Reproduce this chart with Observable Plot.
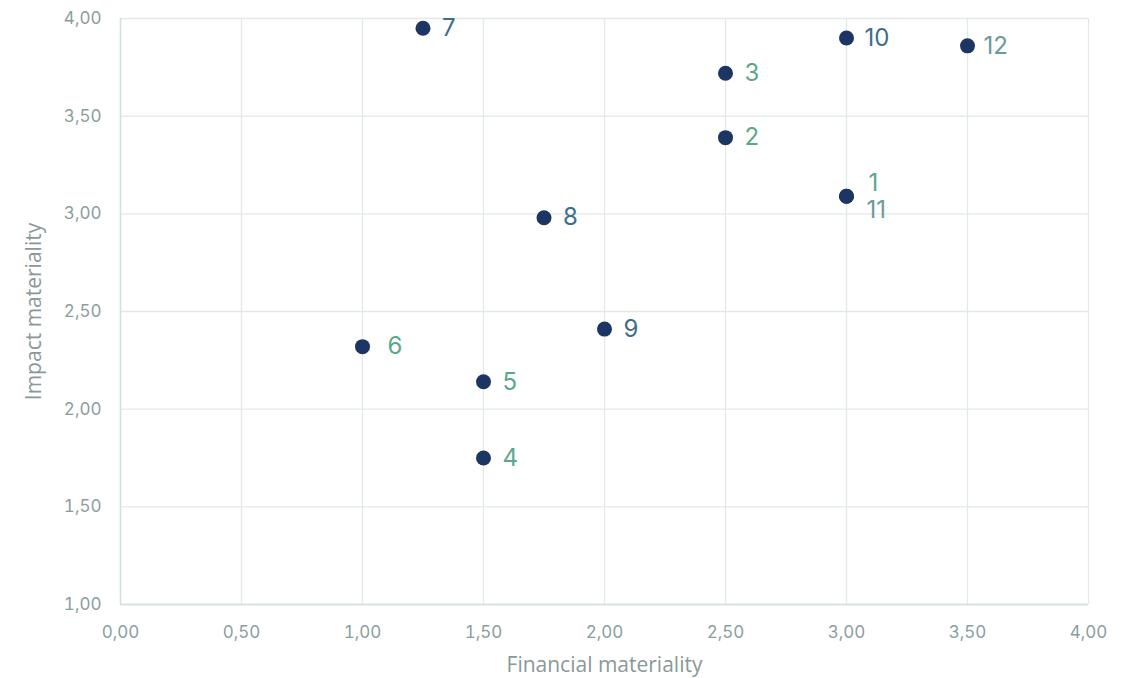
<!DOCTYPE html>
<html>
<head>
<meta charset="utf-8">
<script src="https://cdn.jsdelivr.net/npm/d3@7"></script>
<script src="https://cdn.jsdelivr.net/npm/@observablehq/plot@0.6"></script>
<style>
  html, body { margin: 0; padding: 0; background: #ffffff; }
  #chart svg { display: block; }
</style>
</head>
<body>
<div id="chart"></div>
<script>
const labels = ["1", "2", "3", "4", "5", "6", "7", "8", "9", "10", "11", "12"];
const financial = [3.0, 2.5, 2.5, 1.5, 1.5, 1.0, 1.25, 1.75, 2.0, 3.0, 3.0, 3.5];
const impact = [3.09, 3.39, 3.72, 1.75, 2.14, 2.32, 3.95, 2.98, 2.41, 3.90, 3.09, 3.86];
const group = ["g", "g", "g", "g", "g", "g", "b", "b", "b", "b", "t", "t"];
const labelDy = [-13, 0, 0, 0, 0, 0, 0, 0, 0, 0, 14, 0];
const labelDx = [22, 19, 19, 19, 19, 25, 19, 19, 19, 18, 20, 16];
const xTicks = [0, 0.5, 1, 1.5, 2, 2.5, 3, 3.5, 4];
const yTicks = [1, 1.5, 2, 2.5, 3, 3.5, 4];

const data = labels.map((l, i) => ({
  label: l, x: financial[i], y: impact[i], g: group[i], dy: labelDy[i], dx: labelDx[i]
}));
const colors = { g: "#5aa88a", b: "#3f6d8c", t: "#6b9a9a" };
const fmt = v => d3.format(".2f")(v).replace(".", ",");
const numFont = "Inter, 'Noto Sans', sans-serif";
const titleFont = "'Open Sans', 'Noto Sans', sans-serif";

const plot = Plot.plot({
  width: 1129,
  height: 678,
  marginLeft: 120,
  marginRight: 41,
  marginTop: 18,
  marginBottom: 74,
  style: { fontFamily: numFont, background: "#ffffff" },
  x: { domain: [0, 4] },
  y: { domain: [1, 4] },
  marks: [
    Plot.gridX(xTicks, { stroke: "#e3e9e9", strokeOpacity: 1, strokeWidth: 1.3 }),
    Plot.gridY(yTicks, { stroke: "#e3e9e9", strokeOpacity: 1, strokeWidth: 1.3 }),
    Plot.ruleX([0], { stroke: "#d6dfdf", strokeWidth: 1.5 }),
    Plot.ruleY([1], { stroke: "#d6dfdf", strokeWidth: 1.5 }),
    Plot.axisX(xTicks, { tickSize: 0, tickPadding: 21, tickFormat: fmt, fill: "#8a9e9e", fontSize: 17, fontWeight: 400, label: null }),
    Plot.axisY(yTicks, { tickSize: 0, tickPadding: 19, tickFormat: fmt, fill: "#8a9e9e", fontSize: 17, fontWeight: 400, label: null }),
    Plot.text(["Financial materiality"], { x: 2, y: 1, text: d => d, dy: 61, fontSize: 21, fontFamily: titleFont, fill: "#8a9898" }),
    Plot.text(["Impact materiality"], { x: 0, y: 2.5, text: d => d, rotate: -90, dx: -86, fontSize: 21, fontFamily: titleFont, fill: "#8a9898" }),
    Plot.dot(data, { x: "x", y: "y", r: 7.5, fill: "#1c3563", stroke: "none" }),
    ...data.map(d => Plot.text([d], { x: "x", y: "y", text: "label", dx: d.dx, dy: d.dy, textAnchor: "start", fontSize: 24, fontWeight: 400, fill: colors[d.g] }))
  ]
});
document.getElementById("chart").appendChild(plot);
</script>
</body>
</html>
